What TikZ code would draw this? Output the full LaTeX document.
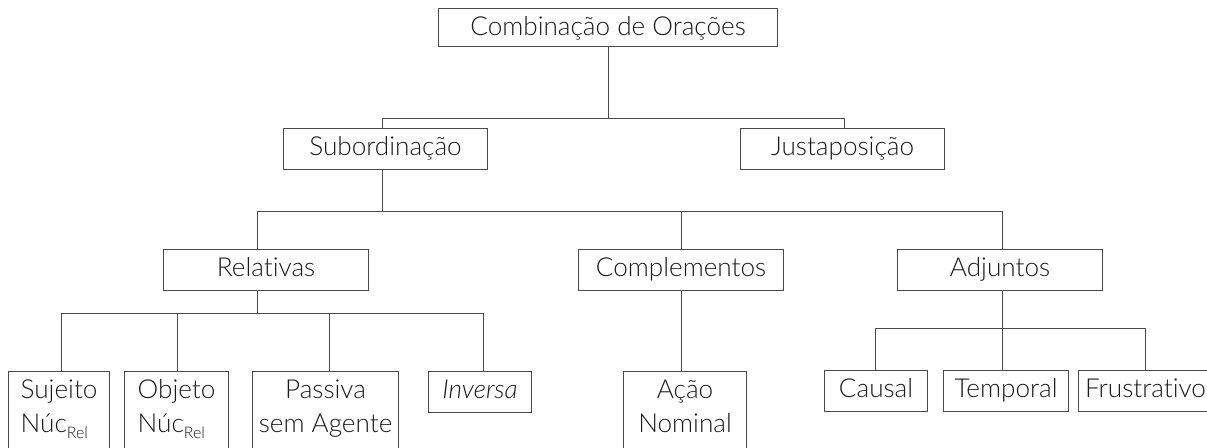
\documentclass[tikz,border=0pt]{standalone}
\usepackage{fontspec}
\setmainfont{Lato}[UprightFont={* Light}, ItalicFont={* Light Italic}, Ligatures=NoCommon]
\usetikzlibrary{calc}
\definecolor{ink}{HTML}{1A1A1A}
\definecolor{edge}{HTML}{4A4A4A}
\newcommand{\relsub}{\raisebox{-0.45ex}{\fontsize{12}{12}\selectfont Rel}}
\begin{document}
\begin{tikzpicture}[x=0.75pt,y=-0.75pt,
  box/.style={draw=edge, line width=0.8pt, anchor=north west, inner xsep=0pt, inner ysep=0pt,
    text height=20.25pt, text depth=10.5pt, text=ink, font=\fontsize{19.6}{25.5}\selectfont},
  tall/.style={box, text depth=70pt},
  link/.style={draw=edge, line width=0.8pt}]
\useasboundingbox (0,0) rectangle (1207,447);
\clip (0,0) rectangle (1207,447);
% level 0
\node[box, minimum width=339*0.75pt, text depth=8.25pt] (top) at (438,8) {Combinação de Orações};
% level 1
\node[box, minimum width=204*0.75pt] (sub) at (283,128) {Subordinação};
\node[box, minimum width=204*0.75pt] (jus) at (740,128) {Justaposição};
% level 2
\node[box, minimum width=205*0.75pt] (rel) at (163,249) {Relativas};
\node[box, minimum width=205*0.75pt] (comp) at (578,249) {Complementos};
\node[box, minimum width=205*0.75pt] (adj) at (897,249) {Adjuntos};
% level 3
\node[tall, minimum width=101*0.75pt] (suj) at (8,371) {\begin{tabular}[t]{@{}l@{}}Sujeito\\Núc\relsub\end{tabular}\hspace{6pt}};
\node[tall, minimum width=104*0.75pt] (obj) at (124,371) {\begin{tabular}[t]{@{}l@{}}Objeto\\Núc\relsub\end{tabular}\hspace{6pt}};
\node[tall, minimum width=146*0.75pt] (pas) at (252,371) {\begin{tabular}[t]{@{}c@{}}Passiva\\sem Agente\end{tabular}};
\node[box, minimum width=103*0.75pt] (inv) at (428,371) {\itshape Inversa};
\node[tall, minimum width=123*0.75pt] (acao) at (623,371) {\begin{tabular}[t]{@{}c@{}}Ação\\Nominal\end{tabular}};
\node[box, minimum width=103*0.75pt] (caus) at (824,370) {Causal};
\node[box, minimum width=125*0.75pt] (temp) at (943,370) {Temporal};
\node[box, minimum width=134*0.75pt] (frus) at (1078,370) {Frustrativo};
% connectors
\coordinate (j1) at ($(top.south)+(0,71)$);
\draw[link] (top.south) -- (j1);
\draw[link] ($(sub.north)+(-3,0)$) |- (j1) -| ($(jus.north)+(2,0)$);
\coordinate (j2) at ($(sub.south)+(-3,41)$);
\draw[link] ($(sub.south)+(-3,0)$) -- (j2);
\draw[link] ($(rel.north)+(-8.5,0)$) |- (j2) -| ($(adj.north)+(2.5,0)$);
\draw[link] ($(comp.north)+(0.5,0)$) |- (j2);
\coordinate (j3) at ($(rel.south)+(-8.5,22)$);
\draw[link] ($(rel.south)+(-8.5,0)$) -- (j3);
\draw[link] ($(suj.north)+(2.5,0)$) |- (j3) -| ($(inv.north)+(3.5,0)$);
\draw[link] ($(obj.north)+(1,0)$) |- (j3);
\draw[link] ($(pas.north)+(4,0)$) |- (j3);
\draw[link] ($(comp.south)+(0.5,0)$) -- ($(acao.north)+(-3.5,0)$);
\coordinate (j4) at ($(adj.south)+(2.5,37)$);
\draw[link] ($(adj.south)+(2.5,0)$) -- ($(temp.north)+(-3.5,0)$);
\draw[link] ($(caus.north)+(-0.5,0)$) |- (j4) -| (frus.north);
\end{tikzpicture}
\end{document}
